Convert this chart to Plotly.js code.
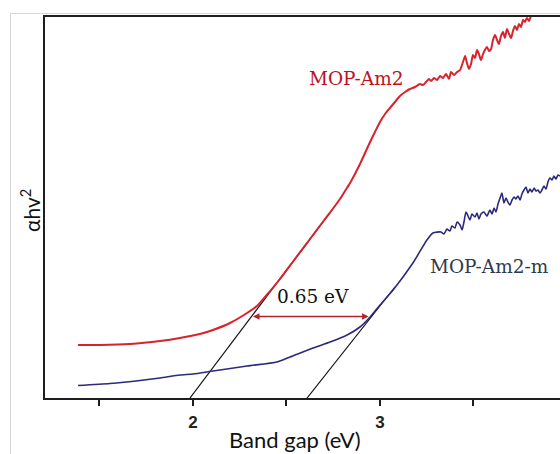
<!DOCTYPE html>
<html>
<head>
<meta charset="utf-8">
<script src="https://cdn.plot.ly/plotly-3.0.1.min.js"></script>
<style>
  html, body { margin: 0; padding: 0; background: #fff; }
  #wrap { position: relative; width: 560px; height: 454px; overflow: hidden; }
  #chart { position: absolute; left: 0; top: 0; width: 560px; height: 454px; }
  #frame { position: absolute; left: 10px; top: 13px; width: 560px; height: 460px;
           border-top: 1px solid #d6d6d6; border-left: 1px solid #d6d6d6; pointer-events: none; }
</style>
</head>
<body>
<div id="wrap"><div id="chart"></div><div id="frame"></div></div>
<script>
// Band gap (eV) vs (alpha h nu)^2, arbitrary units
const redX = [1.385, 1.503, 1.663, 1.824, 1.930, 2.037, 2.107, 2.198, 2.289, 2.342, 2.385, 2.465, 2.545, 2.626,
  2.690, 2.743, 2.786, 2.813, 2.840, 2.866, 2.893, 2.920, 2.947, 2.973, 3.000, 3.027, 3.053, 3.080,
  3.107, 3.134, 3.160, 3.187,
  3.214, 3.230, 3.246, 3.262, 3.273, 3.289, 3.305, 3.321, 3.337,
  3.353, 3.369, 3.380, 3.396, 3.412, 3.428, 3.444, 3.455, 3.465, 3.476, 3.487, 3.497, 3.508, 3.519,
  3.529, 3.540, 3.551, 3.561, 3.572, 3.583, 3.594, 3.604, 3.615, 3.626, 3.636, 3.647, 3.658, 3.668,
  3.679, 3.690, 3.701, 3.711, 3.722, 3.733, 3.743, 3.754, 3.765, 3.775, 3.786, 3.797, 3.807];
const redY = [0.53, 0.53, 0.54, 0.57, 0.60, 0.64, 0.68, 0.75, 0.85, 0.92, 1.01, 1.19, 1.39, 1.59,
  1.75, 1.88, 1.99, 2.07, 2.15, 2.24, 2.34, 2.45, 2.56, 2.66, 2.76, 2.84, 2.90, 2.96,
  3.02, 3.06, 3.09, 3.11,
  3.14, 3.13, 3.16, 3.19, 3.17, 3.20, 3.18, 3.22, 3.20,
  3.24, 3.19, 3.26, 3.23, 3.26, 3.28, 3.36, 3.42, 3.35, 3.29, 3.34, 3.43, 3.40, 3.48,
  3.44, 3.38, 3.44, 3.48, 3.51, 3.47, 3.49, 3.58, 3.63, 3.58, 3.54, 3.62, 3.66, 3.60,
  3.69, 3.64, 3.60, 3.67, 3.72, 3.68, 3.74, 3.71, 3.78, 3.76, 3.80, 3.77, 3.82];

const blueX = [1.385, 1.556, 1.717, 1.824, 1.930, 2.000, 2.107, 2.289, 2.449, 2.519, 2.642, 2.733, 2.824,
  2.893, 2.947, 3.000, 3.070, 3.176, 3.251, 3.283,
  3.326, 3.342, 3.358, 3.374, 3.385, 3.401, 3.412, 3.428, 3.439, 3.449, 3.460, 3.471, 3.481, 3.492,
  3.508, 3.519, 3.529, 3.540, 3.556, 3.572, 3.588, 3.599, 3.610, 3.620, 3.631, 3.642, 3.652, 3.663,
  3.674, 3.684, 3.695, 3.706, 3.717, 3.727, 3.738, 3.749, 3.759, 3.770, 3.781, 3.791, 3.802, 3.813,
  3.824, 3.834, 3.845, 3.856, 3.866, 3.877, 3.888, 3.898, 3.909, 3.920, 3.930, 3.941, 3.952, 3.963];
const blueY = [0.125, 0.145, 0.175, 0.20, 0.23, 0.24, 0.27, 0.32, 0.36, 0.41, 0.50, 0.56, 0.63,
  0.71, 0.81, 0.93, 1.08, 1.35, 1.58, 1.65,
  1.66, 1.64, 1.69, 1.67, 1.72, 1.70, 1.76, 1.73, 1.68, 1.76, 1.86, 1.82, 1.78, 1.84,
  1.81, 1.85, 1.79, 1.84, 1.86, 1.82, 1.88, 1.84, 1.90, 1.86, 1.94, 2.00, 2.05, 1.95,
  2.00, 1.96, 1.93, 1.98, 2.01, 1.99, 2.02, 1.98, 2.04, 2.08, 2.11, 2.05, 2.09, 2.06,
  2.10, 2.07, 2.08, 2.05, 2.08, 2.12, 2.09, 2.16, 2.20, 2.18, 2.22, 2.19, 2.23, 2.22];

// Tangent (Tauc) lines
const tan1X = [1.984, 2.743], tan1Y = [0, 1.88];
const tan2X = [2.610, 3.080], tan2Y = [0, 1.11];
// Gap arrow
const gapX = [2.321, 2.947], gapY = 0.815;
const gapLabel = '0.65 eV';
const seriesNames = ['MOP-Am2', 'MOP-Am2-m'];
const tickVals = [1.5, 2, 2.5, 3, 3.5];
const tickText = ['', '2', '', '3', ''];
const xTitle = 'Band gap (eV)';
const yTitle = 'αhv<sup>2</sup>';

const traces = [
  { x: tan1X, y: tan1Y, mode: 'lines', line: { color: '#111', width: 1.2 }, hoverinfo: 'skip' },
  { x: tan2X, y: tan2Y, mode: 'lines', line: { color: '#111', width: 1.2 }, hoverinfo: 'skip' },
  { x: redX, y: redY, name: seriesNames[0], mode: 'lines', line: { color: '#d9222c', width: 2, shape: 'spline', smoothing: 0.6 } },
  { x: blueX, y: blueY, name: seriesNames[1], mode: 'lines', line: { color: '#2b2a7c', width: 1.6, shape: 'spline', smoothing: 0.6 } }
];

const serif = '"DejaVu Serif", "Liberation Serif", serif';
const sans = 'Lato, "Open Sans", sans-serif';
const layout = {
  width: 560, height: 454,
  margin: { l: 45, r: 0, t: 17, b: 56 },
  paper_bgcolor: 'rgba(0,0,0,0)', plot_bgcolor: '#fff',
  showlegend: false,
  xaxis: {
    range: [1.2086, 3.9626], showgrid: false, zeroline: false,
    showline: true, linecolor: '#1e1e1e', linewidth: 2, mirror: true,
    ticks: 'outside', ticklen: 6, tickwidth: 2, tickcolor: '#1e1e1e',
    tickvals: tickVals, ticktext: tickText, ticklabelstandoff: 2,
    tickfont: { family: '"Liberation Sans", Arial, sans-serif', size: 17, color: '#222', weight: 'bold' }
  },
  yaxis: {
    range: [0, 3.81], showgrid: false, zeroline: false,
    showline: true, linecolor: '#1e1e1e', linewidth: 2, mirror: false,
    showticklabels: false, ticks: ''
  },
  annotations: [
    { x: gapX[0], y: gapY, ax: gapX[1], ay: gapY, xref: 'x', yref: 'y', axref: 'x', ayref: 'y',
      text: '', showarrow: true, arrowhead: 2, startarrowhead: 2, arrowside: 'end+start',
      arrowsize: 1, arrowwidth: 1.3, arrowcolor: '#b3252d' },
    { x: 2.642, y: 1.02, xref: 'x', yref: 'y', text: gapLabel, showarrow: false,
      font: { family: serif, size: 18.5, color: '#111' } },
    { x: 2.872, y: 3.20, xref: 'x', yref: 'y', text: seriesNames[0], showarrow: false,
      font: { family: serif, size: 18.5, color: '#c0101c' } },
    { x: 3.588, y: 1.32, xref: 'x', yref: 'y', text: seriesNames[1], showarrow: false,
      font: { family: serif, size: 18.5, color: '#2f3a4c' } },
    { x: 0.485, y: -0.108, xref: 'paper', yref: 'paper', xanchor: 'center', yanchor: 'middle',
      text: xTitle, showarrow: false, font: { family: sans, size: 22, color: '#111' } },
    { x: -0.029, y: 0.491, xref: 'paper', yref: 'paper', xanchor: 'center', yanchor: 'middle',
      textangle: -90, text: yTitle, showarrow: false, font: { family: sans, size: 21, color: '#111' } }
  ]
};

Plotly.newPlot('chart', traces, layout, { displayModeBar: false, staticPlot: true });
</script>
</body>
</html>
